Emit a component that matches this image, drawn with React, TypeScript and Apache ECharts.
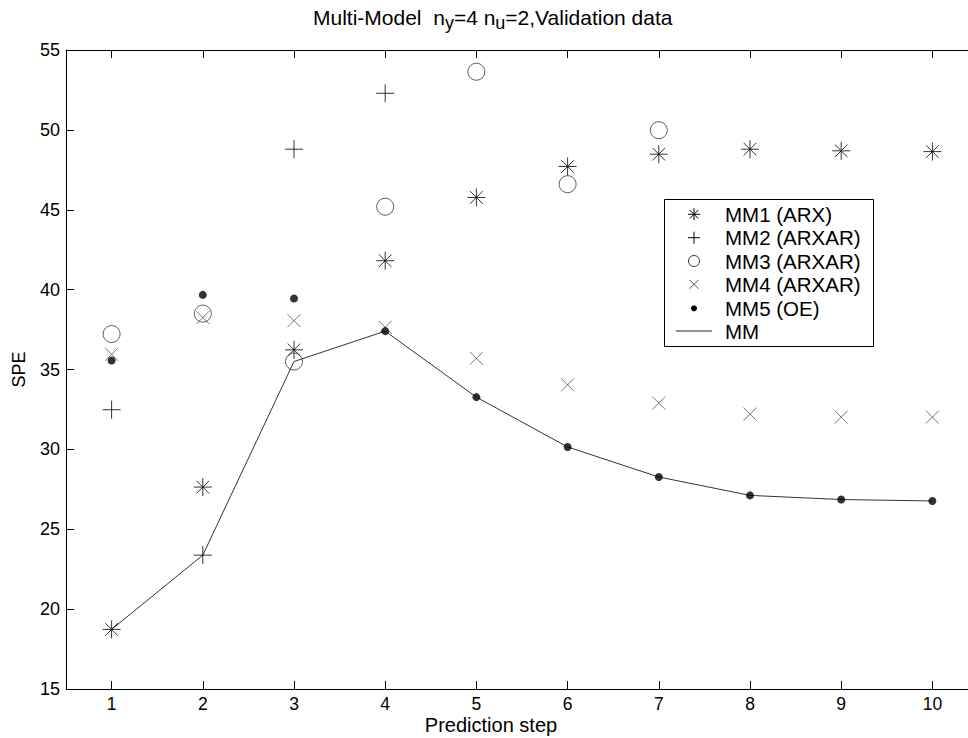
import React, { useEffect, useRef } from "react";
import * as echarts from "echarts";

const categories = ["1", "2", "3", "4", "5", "6", "7", "8", "9", "10"];
const yTicks = { min: 15, max: 55, interval: 5 };

const mm1Arx = [18.73, 27.64, 36.23, 41.81, 45.77, 47.71, 48.48, 48.79, 48.69, 48.64];
const mm2Arxar = [32.48, 23.38, 48.79, 52.29, null, null, null, null, null, null];
const mm3Arxar = [37.22, 38.5, 35.5, 45.19, 53.64, 46.6, 49.98, null, null, null];
const mm4Arxar = [35.95, 38.25, 38.06, 37.64, 35.7, 34.04, 32.9, 32.21, 32.02, 32.02];
const mm5Oe = [35.56, 39.67, 39.44, 37.4, 33.27, 30.15, 28.27, 27.12, 26.86, 26.77];
const mmCombined = [18.73, 23.38, 35.5, 37.4, 33.27, 30.15, 28.27, 27.12, 26.86, 26.77];

const legendNames = ["MM1 (ARX)", "MM2 (ARXAR)", "MM3 (ARXAR)", "MM4 (ARXAR)", "MM5 (OE)", "MM"];
const xAxisTitle = "Prediction step";

const FONT = "'Liberation Sans', Arial, Helvetica, sans-serif";

const ASTERISK = "path://M10,0L10,20M0,10L20,10M3,3L17,17M3,17L17,3";
const PLUS = "path://M10,0L10,20M0,10L20,10";
const CROSS = "path://M0,0L20,20M0,20L20,0";

export default function App() {
  const ref = useRef<HTMLDivElement>(null);

  useEffect(() => {
    if (!ref.current) return;
    const chart = echarts.init(ref.current, null, { renderer: "svg" });

    const lx = 694;
    const rows = [214.3, 237.7, 261, 284.3, 308.3, 331];
    const lineStroke = { stroke: "#000", lineWidth: 1 };
    const graphics: any[] = [
      {
        type: "rect",
        shape: { x: 963, y: 52, width: 6, height: 635 },
        style: { fill: "#fff" },
        z: 200,
      },
      {
        type: "text",
        x: 491,
        y: 725,
        style: {
          text: xAxisTitle,
          fontSize: 20,
          fontFamily: FONT,
          fill: "#000",
          align: "center",
          verticalAlign: "middle",
        },
      },
      {
        type: "rect",
        shape: { x: 664.5, y: 199.5, width: 209, height: 147 },
        style: { fill: "#fff", stroke: "#000", lineWidth: 1 },
        z: 100,
      },
      // asterisk
      { type: "line", shape: { x1: lx - 6, y1: rows[0], x2: lx + 6, y2: rows[0] }, style: lineStroke, z: 101 },
      { type: "line", shape: { x1: lx, y1: rows[0] - 6, x2: lx, y2: rows[0] + 6 }, style: lineStroke, z: 101 },
      { type: "line", shape: { x1: lx - 4.2, y1: rows[0] - 4.2, x2: lx + 4.2, y2: rows[0] + 4.2 }, style: lineStroke, z: 101 },
      { type: "line", shape: { x1: lx - 4.2, y1: rows[0] + 4.2, x2: lx + 4.2, y2: rows[0] - 4.2 }, style: lineStroke, z: 101 },
      // plus
      { type: "line", shape: { x1: lx - 6, y1: rows[1], x2: lx + 6, y2: rows[1] }, style: lineStroke, z: 101 },
      { type: "line", shape: { x1: lx, y1: rows[1] - 6, x2: lx, y2: rows[1] + 6 }, style: lineStroke, z: 101 },
      // circle
      { type: "circle", shape: { cx: lx, cy: rows[2], r: 5.5 }, style: { fill: "none", stroke: "#333", lineWidth: 1 }, z: 101 },
      // cross
      { type: "line", shape: { x1: lx - 4.5, y1: rows[3] - 4.5, x2: lx + 4.5, y2: rows[3] + 4.5 }, style: { stroke: "#555", lineWidth: 1 }, z: 101 },
      { type: "line", shape: { x1: lx - 4.5, y1: rows[3] + 4.5, x2: lx + 4.5, y2: rows[3] - 4.5 }, style: { stroke: "#555", lineWidth: 1 }, z: 101 },
      // dot
      { type: "circle", shape: { cx: lx, cy: rows[4], r: 3 }, style: { fill: "#000" }, z: 101 },
      // line
      { type: "line", shape: { x1: 676, y1: rows[5], x2: 712, y2: rows[5] }, style: { stroke: "#222", lineWidth: 1 }, z: 101 },
    ];
    legendNames.forEach((name, i) => {
      graphics.push({
        type: "text",
        x: 725,
        y: rows[i],
        style: {
          text: name,
          fontSize: 20.5,
          fontFamily: FONT,
          fill: "#000",
          verticalAlign: "middle",
          align: "left",
        },
        z: 101,
      });
    });

    const scatterBase = {
      type: "scatter",
      silent: true,
      emphasis: { disabled: true },
      symbolKeepAspect: true,
      xAxisIndex: 0,
      yAxisIndex: 0,
    };

    chart.setOption({
      animation: false,
      backgroundColor: "#fff",
      textStyle: { fontFamily: FONT },
      title: {
        text: "Multi-Model  n{s|y}=4 n{s|u}=2,Validation data",
        left: 313,
        top: 2,
        padding: 0,
        textStyle: {
          fontSize: 21,
          fontWeight: "normal",
          fontFamily: FONT,
          color: "#000",
          lineHeight: 30,
          rich: {
            s: { fontSize: 18, lineHeight: 16, verticalAlign: "bottom", fontFamily: FONT, color: "#000" },
          },
        },
      },
      grid: { left: 66, top: 50, width: 912, height: 639, containLabel: false, outerBoundsMode: "none" },
      xAxis: [
        {
          type: "category",
          data: categories,
          position: "bottom",
          boundaryGap: true,
          axisLine: { show: true, lineStyle: { color: "#000", width: 1 } },
          axisTick: { show: true, inside: true, alignWithLabel: true, length: 8, lineStyle: { color: "#000" } },
          axisLabel: { color: "#000", fontSize: 17.5, fontFamily: FONT, margin: 6 },
          splitLine: { show: false },
        },
        {
          type: "category",
          data: categories,
          position: "top",
          boundaryGap: true,
          axisLine: { show: true, lineStyle: { color: "#000", width: 1 } },
          axisTick: { show: true, inside: true, alignWithLabel: true, length: 8, lineStyle: { color: "#000" } },
          axisLabel: { show: false },
          splitLine: { show: false },
        },
      ],
      yAxis: [
        {
          type: "value",
          min: yTicks.min,
          max: yTicks.max,
          interval: yTicks.interval,
          axisLine: { show: true, lineStyle: { color: "#000", width: 1 } },
          axisTick: { show: true, inside: true, length: 8, lineStyle: { color: "#000" } },
          axisLabel: { color: "#000", fontSize: 18, fontFamily: FONT, margin: 6 },
          splitLine: { show: false },
          name: "SPE",
          nameLocation: "middle",
          nameGap: 38,
          nameTextStyle: { color: "#000", fontSize: 18, fontFamily: FONT },
        },
      ],
      series: [
        {
          name: "MM",
          type: "line",
          data: mmCombined,
          symbol: "none",
          silent: true,
          lineStyle: { color: "#333", width: 1 },
          z: 1,
        },
        {
          ...scatterBase,
          name: "MM1 (ARX)",
          data: mm1Arx,
          symbol: ASTERISK,
          symbolSize: 18,
          itemStyle: { color: "transparent", borderColor: "#000", borderWidth: 1 },
          z: 3,
        },
        {
          ...scatterBase,
          name: "MM2 (ARXAR)",
          data: mm2Arxar,
          symbol: PLUS,
          symbolSize: 18,
          itemStyle: { color: "transparent", borderColor: "#000", borderWidth: 1 },
          z: 3,
        },
        {
          ...scatterBase,
          name: "MM3 (ARXAR)",
          data: mm3Arxar,
          symbol: "circle",
          symbolSize: 17,
          itemStyle: { color: "transparent", borderColor: "#333", borderWidth: 1 },
          z: 3,
        },
        {
          ...scatterBase,
          name: "MM4 (ARXAR)",
          data: mm4Arxar,
          symbol: CROSS,
          symbolSize: 13,
          itemStyle: { color: "transparent", borderColor: "#555", borderWidth: 1 },
          z: 3,
        },
        {
          ...scatterBase,
          name: "MM5 (OE)",
          data: mm5Oe,
          symbol: "circle",
          symbolSize: 8,
          itemStyle: { color: "#000", borderWidth: 0 },
          z: 4,
        },
      ],
      graphic: graphics,
    });

    return () => chart.dispose();
  }, []);

  return (
    <div
      ref={ref}
      style={{ position: "fixed", left: 0, top: 0, width: 968, height: 738, background: "#fff", overflow: "hidden" }}
    />
  );
}
